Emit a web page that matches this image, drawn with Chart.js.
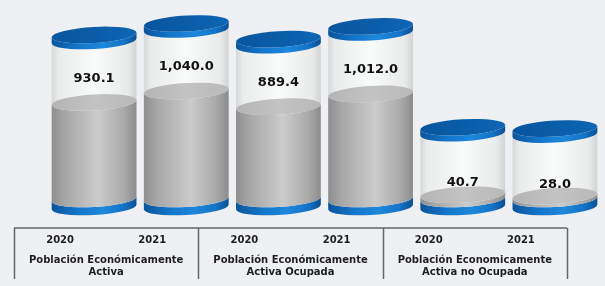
<!DOCTYPE html>
<html>
<head>
<meta charset="utf-8">
<script src="https://cdn.jsdelivr.net/npm/chart.js@4/dist/chart.umd.min.js"></script>
<style>
  html, body { margin: 0; padding: 0; background: #eff0f3; }
  #wrap { width: 605px; height: 286px; position: relative; }
</style>
</head>
<body>
<div id="wrap"><canvas id="grafico"></canvas></div>
<script>
// Datos (miles de personas)
var anios = ['2020', '2021', '2020', '2021', '2020', '2021'];
var grupos = [
    ['Población Económicamente', 'Activa'],
    ['Población Económicamente', 'Activa Ocupada'],
    ['Población Economicamente', 'Activa no Ocupada']
];
var valores = [930.1, 1040.0, 889.4, 1012.0, 40.7, 28.0];
// parte "vacía" del cilindro de vidrio sobre cada valor
var envase = [650, 650, 650, 650, 650, 650];

var SKEW = -0.055;   // inclinación de la perspectiva
var RY = 8;          // semieje vertical de las elipses
var TAPA_SUP = 6;    // grosor de la tapa azul superior
var TAPA_INF = 8;    // grosor de la tapa azul inferior
var DESPLAZA = -34;  // la tabla del eje va corrida a la izquierda (efecto 3D)

function _grad(ctx, rx, stops) {
    var g = ctx.createLinearGradient(-rx, 0, rx, 0);
    stops.forEach(function (s) { g.addColorStop(s[0], s[1]); });
    return g;
}

// banda lateral entre dos elipses (y1 arriba, y2 abajo)
function _banda(ctx, rx, y1, y2, fill) {
    ctx.beginPath();
    ctx.moveTo(-rx, y1);
    ctx.lineTo(-rx, y2);
    ctx.ellipse(0, y2, rx, RY, 0, Math.PI, 0, true);
    ctx.lineTo(rx, y1);
    ctx.ellipse(0, y1, rx, RY, 0, 0, Math.PI, false);
    ctx.closePath();
    ctx.fillStyle = fill;
    ctx.fill();
}

function _cara(ctx, rx, y, fill) {
    ctx.beginPath();
    ctx.ellipse(0, y, rx, RY, 0, 0, Math.PI * 2);
    ctx.fillStyle = fill;
    ctx.fill();
}

function dibujarCilindro(ctx, cx, rx, yBase, yGris, yTope) {
    var azulLado = _grad(ctx, rx, [[0, '#0b549c'], [0.3, '#1375c9'], [0.6, '#1d88dc'], [0.85, '#1473c6'], [1, '#0a5096']]);
    var azulCara = _grad(ctx, rx, [[0, '#09559f'], [0.6, '#0b5eaa'], [1, '#0e66b4']]);
    var grisLado = _grad(ctx, rx, [[0, '#8e8e8e'], [0.15, '#a6a6a6'], [0.55, '#cbcbcb'], [0.85, '#aaaaaa'], [1, '#8b8b8b']]);
    var grisCara = _grad(ctx, rx, [[0, '#b4b4b4'], [0.5, '#c3c3c3'], [1, '#b9b9b9']]);
    var vidrio = _grad(ctx, rx, [[0, '#d6d7d7'], [0.08, '#eaebeb'], [0.5, '#f9fafa'], [0.9, '#e9eaea'], [1, '#d2d3d3']]);

    ctx.save();
    ctx.translate(cx, 0);
    ctx.transform(1, SKEW, 0, 1, 0, 0);

    // tapa inferior azul
    _banda(ctx, rx, yBase, yBase + TAPA_INF, azulLado);
    // vidrio
    _banda(ctx, rx, yTope, yGris, vidrio);
    // relleno gris (valor)
    _banda(ctx, rx, yGris, yBase, grisLado);
    _cara(ctx, rx, yGris, grisCara);
    // tapa superior azul
    _banda(ctx, rx, yTope, yTope + TAPA_SUP, azulLado);
    _cara(ctx, rx, yTope, azulCara);

    ctx.restore();
}

var cilindros = {
    id: 'cilindros',
    afterDatasetsDraw: function (chart) {
        var ctx = chart.ctx;
        var m0 = chart.getDatasetMeta(0);
        var m1 = chart.getDatasetMeta(1);
        m0.data.forEach(function (bar, i) {
            var tope = m1.data[i];
            dibujarCilindro(ctx, bar.x, bar.width / 2, bar.base, bar.y, tope.y);
        });
        // etiquetas de valor
        ctx.save();
        ctx.font = 'bold 13px "DejaVu Sans"';
        ctx.fillStyle = '#111111';
        ctx.textAlign = 'center';
        ctx.textBaseline = 'middle';
        m0.data.forEach(function (bar, i) {
            var h = bar.base - bar.y;
            var off = Math.min(24, 10 + h * 0.5);
            var txt = valores[i].toLocaleString('en-US', { minimumFractionDigits: 1, maximumFractionDigits: 1 });
            ctx.fillText(txt, bar.x, bar.y - off);
        });
        ctx.restore();
    },
    afterDraw: function (chart) {
        var ctx = chart.ctx;
        var xs = chart.scales.x;
        var base = chart.chartArea.bottom;
        var medio = (xs.getPixelForValue(1) - xs.getPixelForValue(0)) / 2;
        var limite = function (i) { return xs.getPixelForValue(i) - medio + DESPLAZA; };
        var yLinea = base + 29;

        ctx.save();
        ctx.strokeStyle = '#666666';
        ctx.lineWidth = 1.5;
        ctx.beginPath();
        ctx.moveTo(limite(0), yLinea);
        ctx.lineTo(limite(anios.length), yLinea);
        for (var g = 0; g <= grupos.length; g++) {
            var x = Math.round(limite(g * 2)) + 0.5;
            ctx.moveTo(x, yLinea);
            ctx.lineTo(x, base + 80);
        }
        ctx.stroke();

        ctx.fillStyle = '#1e1e1e';
        ctx.textAlign = 'center';
        ctx.textBaseline = 'middle';
        ctx.font = 'bold 10px "DejaVu Sans"';
        anios.forEach(function (a, i) {
            ctx.fillText(a, xs.getPixelForValue(i) + DESPLAZA, base + 41);
        });
        grupos.forEach(function (lineas, g) {
            var cx = (limite(g * 2) + limite(g * 2 + 2)) / 2;
            lineas.forEach(function (t, k) {
                ctx.fillText(t, cx, base + 61 + k * 12);
            });
        });
        ctx.restore();
    }
};

new Chart(document.getElementById('grafico'), {
    type: 'bar',
    data: {
        labels: anios,
        datasets: [
            { label: 'Valor', data: valores, backgroundColor: 'transparent', borderWidth: 0 },
            { label: 'Envase', data: envase, backgroundColor: 'transparent', borderWidth: 0 }
        ]
    },
    options: {
        responsive: true,
        maintainAspectRatio: false,
        animation: false,
        layout: { padding: { left: 48, right: 4, top: 10, bottom: 87 } },
        datasets: { bar: { categoryPercentage: 1, barPercentage: 0.92 } },
        plugins: { legend: { display: false }, tooltip: { enabled: false } },
        scales: {
            x: { stacked: true, display: false },
            y: { stacked: true, display: false, min: 0, max: 1820 }
        }
    },
    plugins: [cilindros]
});
</script>
</body>
</html>
